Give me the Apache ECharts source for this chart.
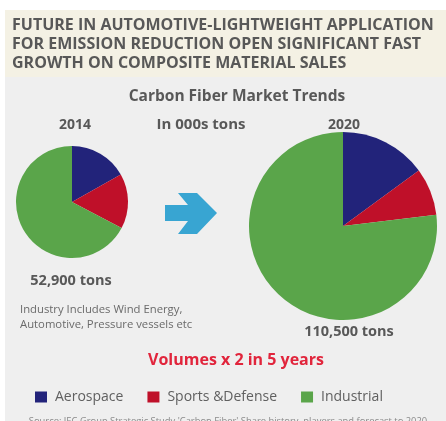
<!DOCTYPE html>
<html>
<head>
<meta charset="utf-8">
<script src="https://cdn.jsdelivr.net/npm/echarts@6/dist/echarts.min.js"></script>
<style>
  html, body { margin: 0; padding: 0; background: #ffffff; }
  #chart { width: 446px; height: 421px; }
</style>
</head>
<body>
<div id="chart"></div>
<script>
// Carbon fiber market split by end use, in thousand tons
const segments = ['Aerospace', 'Sports &Defense', 'Industrial'];
const volumes2014 = [8.9, 8.4, 35.6];
const volumes2020 = [16.5, 9.0, 85.0];
const segmentColors = ['#22237a', '#bf1029', '#5aa54a'];

const headline = [
  'FUTURE IN AUTOMOTIVE-LIGHTWEIGHT APPLICATION',
  'FOR EMISSION REDUCTION OPEN SIGNIFICANT FAST',
  'GROWTH ON COMPOSITE MATERIAL SALES'
];

const FONT = '"Open Sans", "DejaVu Sans", sans-serif';
const GREY = '#585858';

function toPie(values) {
  return segments.map((name, i) => ({ name, value: values[i] }));
}

function label(text, x, y, opts) {
  return {
    type: 'text',
    x, y,
    silent: true,
    style: Object.assign({
      text,
      fill: GREY,
      font: 'bold 14px ' + FONT,
      align: 'center',
      verticalAlign: 'middle'
    }, opts || {})
  };
}

const fmt = n => Math.round(n * 1000).toLocaleString('en-US');
const total2014 = volumes2014.reduce((a, b) => a + b, 0);
const total2020 = volumes2020.reduce((a, b) => a + b, 0);

const chart = echarts.init(document.getElementById('chart'), null, { renderer: 'canvas' });

chart.setOption({
  animation: false,
  color: segmentColors,
  graphic: [
    // panel and headline band
    { type: 'rect', z: -10, silent: true, shape: { x: 5, y: 10, width: 441, height: 411 }, style: { fill: '#efefef' } },
    { type: 'rect', z: -9, silent: true, shape: { x: 5, y: 10, width: 441, height: 67 }, style: { fill: '#f4f1e4' } },
    label(headline[0], 12, 25, { align: 'left', font: 'bold 16px ' + FONT }),
    label(headline[1], 12, 44, { align: 'left', font: 'bold 16px ' + FONT }),
    label(headline[2], 12, 63, { align: 'left', font: 'bold 16px ' + FONT }),
    label('Carbon Fiber Market Trends', 237, 97, { font: 'bold 15.5px ' + FONT }),
    label('2014', 75, 125, { font: 'bold 14px ' + FONT }),
    label('In 000s tons', 201, 125, { font: 'bold 15px ' + FONT }),
    label('2020', 344, 125, { font: 'bold 14px ' + FONT }),
    label(fmt(total2014) + ' tons', 71, 281, { font: 'bold 14.5px ' + FONT }),
    label(fmt(total2020) + ' tons', 349, 332, { font: 'bold 14.5px ' + FONT }),
    label('Industry Includes Wind Energy,', 20, 310, { align: 'left', font: '11.3px ' + FONT, fill: '#6a6a6a' }),
    label('Automotive, Pressure vessels etc', 20, 325, { align: 'left', font: '11.3px ' + FONT, fill: '#6a6a6a' }),
    label('Volumes x 2 in 5 years', 236, 360, { font: 'bold 16px ' + FONT, fill: '#e1253c' }),
    label("Source: JEC Group Strategic Study 'Carbon Fiber' Share history, players and forecast to 2020", 228, 421,
      { font: '9.4px ' + FONT, fill: '#8a8a8a' }),
    // growth arrow
    {
      type: 'polygon', silent: true,
      shape: { points: [[165, 205], [188, 205], [178, 193], [197, 193], [217, 213], [197, 234], [178, 234], [188, 221], [165, 221]] },
      style: { fill: '#38a5d2' }
    }
  ],
  legend: {
    data: segments,
    left: 30,
    top: 385,
    icon: 'rect',
    itemWidth: 12,
    itemHeight: 11,
    itemGap: 24,
    selectedMode: false,
    textStyle: { color: '#606060', fontSize: 14, fontFamily: FONT, padding: [0, 0, 0, 3] }
  },
  series: [
    {
      type: 'pie',
      name: '2014',
      center: [72, 202],
      radius: 56,
      startAngle: 90,
      clockwise: true,
      silent: true,
      label: { show: false },
      labelLine: { show: false },
      itemStyle: { borderWidth: 0 },
      data: toPie(volumes2014)
    },
    {
      type: 'pie',
      name: '2020',
      center: [343, 226],
      radius: 94,
      startAngle: 90,
      clockwise: true,
      silent: true,
      label: { show: false },
      labelLine: { show: false },
      itemStyle: { borderWidth: 0 },
      data: toPie(volumes2020)
    }
  ]
});
</script>
</body>
</html>
